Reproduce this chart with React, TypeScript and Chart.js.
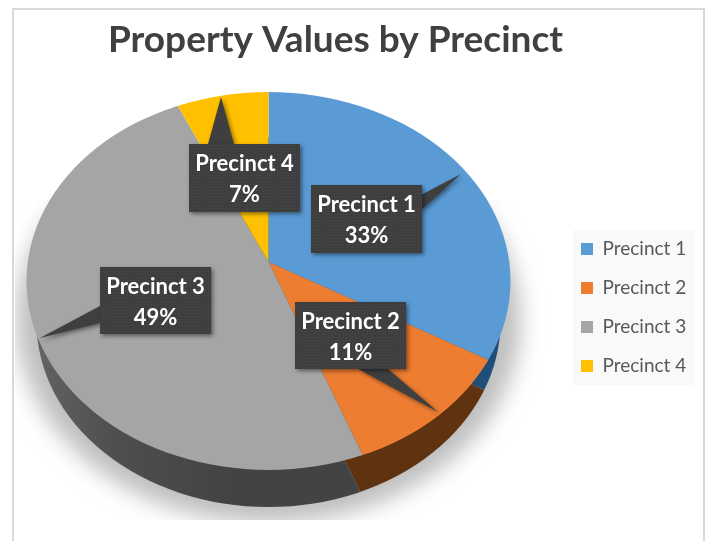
import React, { useEffect, useRef } from "react";
import { Chart, registerables } from "chart.js";

Chart.register(...registerables);

const categories = ["Precinct 1", "Precinct 2", "Precinct 3", "Precinct 4"];
const shares = [33, 11, 49, 7];
const faceColors = ["#5b9bd5", "#ed7d31", "#a5a5a5", "#ffc000"];
const wallColors = ["#1f4e79", "#5f3210", "", "#7f6000"];
const titleText = "Property Values by Precinct";

// Callout geometry: box, then pointer base points and tip
const callouts = [
  { box: [311, 185, 111, 68], base: [[421, 195], [421, 210]], tip: [461, 174] },
  { box: [295, 302, 111, 67], base: [[358, 369], [388, 369]], tip: [438, 412] },
  { box: [100, 267, 111, 67], base: [[100, 306], [100, 323]], tip: [40, 338] },
  { box: [189, 144, 111, 68], base: [[208, 144], [234, 144]], tip: [221, 97] },
];

const TOP = { cx: 268.5, cy: 281, rx: 242, ry: 189 };
const BOTTOM = { cx: 268.5, cy: 322, rx: 232, ry: 185 };
const APEX = { x: 268.5, y: 262 };
const WALL_APEX = { x: 262, y: 291 };
const TILT = 0.81;
const SPREAD = 400;

function ellipsePath(ctx: CanvasRenderingContext2D, e: typeof TOP) {
  ctx.beginPath();
  ctx.ellipse(e.cx, e.cy, e.rx, e.ry, 0, 0, Math.PI * 2);
}

function place(ctx: CanvasRenderingContext2D, arc: any, x: number, y: number) {
  const s = SPREAD / arc.outerRadius;
  ctx.translate(x, y);
  ctx.scale(s, s * TILT);
  ctx.translate(-arc.x, -arc.y);
}

function dotted(ctx: CanvasRenderingContext2D) {
  const c = document.createElement("canvas");
  c.width = 3;
  c.height = 3;
  const p = c.getContext("2d")!;
  p.fillStyle = "#3e3e3e";
  p.fillRect(0, 0, 3, 3);
  p.fillStyle = "#4a4a4a";
  p.fillRect(1, 1, 1, 1);
  return ctx.createPattern(c, "repeat")!;
}

const piePlugin = {
  id: "pie3d",
  afterLayout(chart: any) {
    const t = chart.titleBlock;
    t.left = -20;
    t.right = 691;
    t.top = 18;
    const l = chart.legend;
    l.left = 561;
    l.top = 219.5;
    l.bottom = 400;
  },
  beforeDraw(chart: any) {
    const ctx: CanvasRenderingContext2D = chart.ctx;
    ctx.save();
    ctx.fillStyle = "#ffffff";
    ctx.fillRect(0, 0, 711, 541);
    ctx.strokeStyle = "#d9d9d9";
    ctx.lineWidth = 2;
    ctx.beginPath();
    ctx.moveTo(13, 541);
    ctx.lineTo(13, 9);
    ctx.lineTo(704, 9);
    ctx.lineTo(704, 541);
    ctx.stroke();
    ctx.fillStyle = "#f9f9f9";
    ctx.fillRect(573, 230, 122, 155);
    ctx.restore();
  },
  beforeDatasetsDraw(chart: any) {
    const ctx: CanvasRenderingContext2D = chart.ctx;
    const arcs = chart.getDatasetMeta(0).data;

    ctx.save();
    ctx.beginPath();
    ctx.rect(15, 200, 680, 320);
    ctx.clip();
    ctx.filter = "blur(11px)";
    ctx.fillStyle = "#bebebe";
    ctx.beginPath();
    ctx.ellipse(268.5, 320, 252, 203, 0, 0, Math.PI * 2);
    ctx.fill();
    ctx.restore();

    const grey = ctx.createLinearGradient(32, 0, 268, 0);
    grey.addColorStop(0, "#8a8a8a");
    grey.addColorStop(0.4, "#6c6c6c");
    grey.addColorStop(0.7, "#4e4e4e");
    grey.addColorStop(1, "#434343");

    ctx.save();
    ellipsePath(ctx, BOTTOM);
    ctx.clip();
    place(ctx, arcs[0], WALL_APEX.x, WALL_APEX.y);
    arcs.forEach((arc: any, i: number) => {
      const saved = arc.options;
      arc.options = { ...saved, backgroundColor: wallColors[i] || grey };
      arc.draw(ctx);
      arc.options = saved;
    });
    ctx.restore();

    ctx.save();
    ellipsePath(ctx, TOP);
    ctx.clip();
    place(ctx, arcs[0], APEX.x, APEX.y);
  },
  afterDatasetsDraw(chart: any) {
    const ctx: CanvasRenderingContext2D = chart.ctx;
    ctx.restore();
    const pattern = dotted(ctx);
    callouts.forEach((c, i) => {
      const [x, y, w, h] = c.box;
      ctx.save();
      ctx.shadowColor = "rgba(0,0,0,0.45)";
      ctx.shadowBlur = 4;
      ctx.shadowOffsetX = 2;
      ctx.shadowOffsetY = 2;
      ctx.fillStyle = "#3f3f3f";
      ctx.beginPath();
      ctx.moveTo(c.base[0][0], c.base[0][1]);
      ctx.lineTo(c.tip[0], c.tip[1]);
      ctx.lineTo(c.base[1][0], c.base[1][1]);
      ctx.closePath();
      ctx.fill();
      ctx.fillRect(x, y, w, h);
      ctx.restore();
      ctx.save();
      ctx.fillStyle = pattern;
      ctx.fillRect(x, y, w, h);
      ctx.fillStyle = "#ffffff";
      ctx.textAlign = "center";
      ctx.textBaseline = "alphabetic";
      ctx.font = "bold 22px Lato";
      ctx.fillText(categories[i], x + w / 2, y + 27);
      ctx.fillText(shares[i] + "%", x + w / 2, y + 58);
      ctx.restore();
    });
  },
};

export default function App() {
  const ref = useRef<HTMLCanvasElement>(null);
  useEffect(() => {
    const chart = new Chart(ref.current!, {
      type: "pie",
      data: {
        labels: categories,
        datasets: [
          {
            data: shares,
            backgroundColor: faceColors,
            borderWidth: 0,
            clip: false,
          } as any,
        ],
      },
      options: {
        animation: false,
        responsive: false,
        events: [],
        plugins: {
          title: {
            display: true,
            text: titleText,
            color: "#404040",
            padding: 0,
            font: { family: "Lato", size: 37, weight: "bold" },
          },
          legend: {
            position: "right",
            align: "start",
            labels: {
              boxWidth: 12,
              boxHeight: 12,
              padding: 20,
              color: "#595959",
              font: { family: "Lato", size: 19 },
            },
          },
          tooltip: { enabled: false },
        },
      },
      plugins: [piePlugin],
    } as any);
    return () => chart.destroy();
  }, []);
  return (
    <div style={{ position: "absolute", left: 0, top: 0, width: 711, height: 541 }}>
      <canvas ref={ref} width={711} height={541} style={{ display: "block", filter: "blur(0.5px)" }} />
    </div>
  );
}
